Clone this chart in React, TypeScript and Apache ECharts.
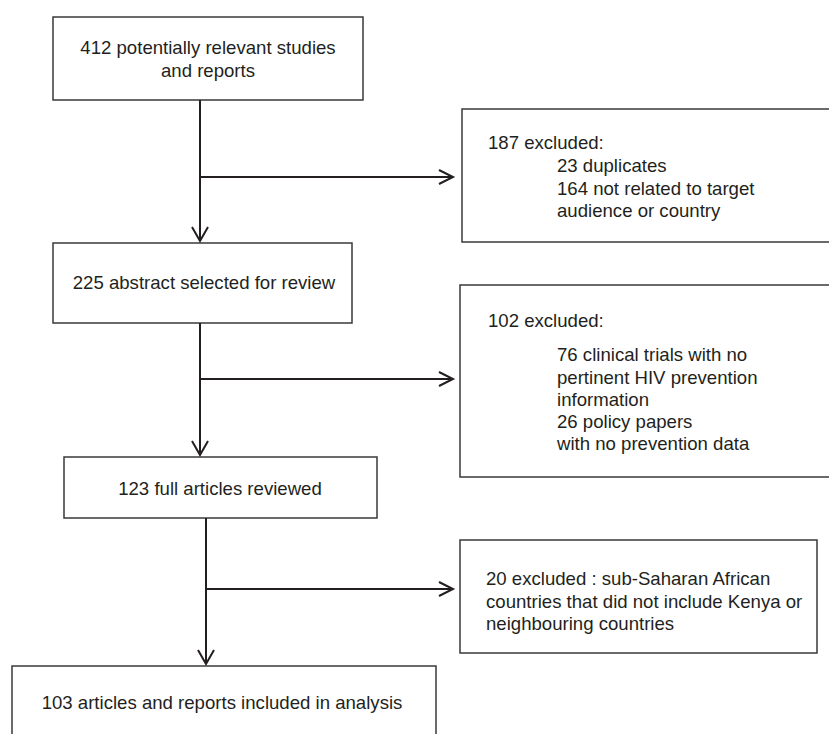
import React, { useEffect, useRef } from "react";
import * as echarts from "echarts";

// Flow stages (main column) and exclusions (right column)
const stageCounts = [412, 225, 123, 103];
const stageLines: string[][] = [
  ["412 potentially relevant studies", "and reports"],
  ["225 abstract selected for review"],
  ["123 full articles reviewed"],
  ["103 articles and reports included in analysis"],
];
const excludedCounts = [187, 102, 20];
const excludedHeads = ["187 excluded:", "102 excluded:", ""];
const excludedItems: string[][] = [
  ["23 duplicates", "164 not related to target", "audience or country"],
  ["76 clinical trials with no", "pertinent HIV prevention", "information", "26 policy papers", "with no prevention data"],
  ["20 excluded : sub-Saharan African", "countries that did not include Kenya or", "neighbouring countries"],
];

const INK = "#231f20";
const BOX = "#3a3a3a";
const FONT = '18.6px "Liberation Sans", Arial, Helvetica, sans-serif';

function box(x: number, y: number, w: number, h: number) {
  return {
    type: "rect",
    shape: { x, y, width: w, height: h },
    style: { fill: "#fff", stroke: BOX, lineWidth: 1.5 },
    z: 1,
  };
}
function txt(t: string, x: number, y: number, align = "center") {
  return {
    type: "text",
    style: { text: t, x, y, font: FONT, fill: INK, align, verticalAlign: "middle" },
    z: 3,
  };
}
function seg(x1: number, y1: number, x2: number, y2: number) {
  return {
    type: "line",
    shape: { x1, y1, x2, y2 },
    style: { stroke: INK, lineWidth: 2 },
    z: 2,
  };
}
function arrowDown(x: number, tip: number) {
  return {
    type: "polyline",
    shape: { points: [[x - 8, tip - 14], [x, tip], [x + 8, tip - 14]] },
    style: { stroke: INK, lineWidth: 2, fill: "none" },
    z: 2,
  };
}
function arrowRight(tipX: number, y: number) {
  return {
    type: "polyline",
    shape: { points: [[tipX - 14, y - 7], [tipX, y], [tipX - 14, y + 7]] },
    style: { stroke: INK, lineWidth: 2, fill: "none" },
    z: 2,
  };
}

export default function App() {
  const ref = useRef<HTMLDivElement>(null);
  useEffect(() => {
    if (!ref.current) return;
    const chart = echarts.init(ref.current, null, { renderer: "svg" });
    const els: any[] = [];

    // main boxes
    const mainBoxes = [
      { x: 53, y: 17, w: 310, h: 83, cx: 208, ys: [47, 70] },
      { x: 53, y: 243, w: 299, h: 80, cx: 204, ys: [282] },
      { x: 64, y: 457, w: 313, h: 61, cx: 220, ys: [488] },
      { x: 12, y: 666, w: 424, h: 90, cx: 222, ys: [702] },
    ];
    mainBoxes.forEach((b, i) => {
      els.push(box(b.x, b.y, b.w, b.h));
      stageLines[i].forEach((l, j) => els.push(txt(l, b.cx, b.ys[j])));
    });

    // exclusion boxes
    const exBoxes = [
      { x: 462, y: 109, w: 380, h: 133, head: 142, hx: 488, ix: 557, iy: [165, 188, 210] },
      { x: 460, y: 285, w: 380, h: 192, head: 320, hx: 488, ix: 557, iy: [354, 377, 399, 421, 443] },
      { x: 460, y: 540, w: 357, h: 113, head: 0, hx: 486, ix: 486, iy: [578, 601, 623] },
    ];
    exBoxes.forEach((b, i) => {
      els.push(box(b.x, b.y, b.w, b.h));
      if (excludedHeads[i]) els.push(txt(excludedHeads[i], b.hx, b.head, "left"));
      excludedItems[i].forEach((l, j) => els.push(txt(l, b.ix, b.iy[j], "left")));
    });

    // connectors
    const links = [
      { x: 200, from: 100, to: 241, branchY: 177, tipX: 453 },
      { x: 200, from: 323, to: 455, branchY: 379, tipX: 453 },
      { x: 206, from: 518, to: 664, branchY: 589, tipX: 453 },
    ];
    links.forEach((c) => {
      els.push(seg(c.x, c.from, c.x, c.to));
      els.push(arrowDown(c.x, c.to));
      els.push(seg(c.x, c.branchY, c.tipX, c.branchY));
      els.push(arrowRight(c.tipX, c.branchY));
    });

    chart.setOption({
      animation: false,
      backgroundColor: "#fff",
      graphic: { elements: els },
    });
    return () => chart.dispose();
  }, []);
  return (
    <div
      ref={ref}
      style={{ position: "absolute", left: 0, top: 0, width: 829, height: 734 }}
    />
  );
}
